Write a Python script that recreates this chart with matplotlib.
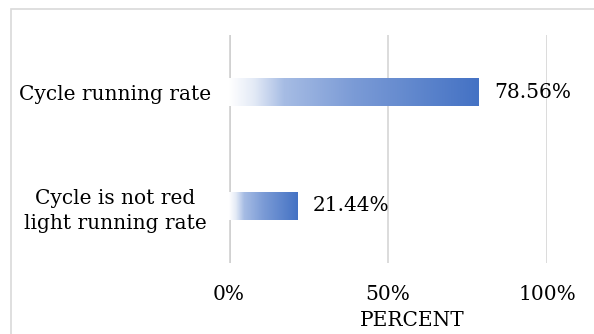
import numpy as np
import matplotlib.pyplot as plt
from matplotlib.colors import LinearSegmentedColormap
from matplotlib.patches import Rectangle

# data
categories = ['Cycle is not red\nlight running rate', 'Cycle running rate']
percent = [21.44, 78.56]
ticks = [0, 50, 100]
tick_labels = ['0%', '50%', '100%']

plt.rcParams['font.family'] = ['DejaVu Serif']
fs = 14.5

fig = plt.figure(figsize=(5.94, 3.34), dpi=100)
ax = fig.add_axes([0.3855, 0.2126, 0.5354, 0.6826])

# white -> blue gradient like the Excel fill
grad = LinearSegmentedColormap.from_list('grad', [
    (0.0, '#ffffff'), (0.1, '#e3eaf6'), (0.22, '#a6bce4'),
    (0.5, '#7b9bd6'), (1.0, '#4472c4')])

bars = ax.barh(range(len(categories)), percent, height=0.245,
               color='none', edgecolor='none', zorder=3)
g = np.linspace(0, 1, 256).reshape(1, -1)
for b in bars:
    x0, y0 = b.get_x(), b.get_y()
    im = ax.imshow(g, cmap=grad, aspect='auto', zorder=3,
                   extent=[x0, x0 + b.get_width(), y0, y0 + b.get_height()])
    im.set_clip_path(b)

for i, v in enumerate(percent):
    ax.text(v + 5, i, f'{v:.2f}%', va='center', ha='left', fontsize=fs)

ax.set_xlim(0, 100)
ax.set_ylim(-0.5, len(categories) - 0.5)
ax.set_xticks(ticks)
ax.set_xticklabels(tick_labels, fontsize=fs)
ax.set_yticks(range(len(categories)))
ax.set_yticklabels(categories, fontsize=fs, ha='center', linespacing=1.4)
ax.tick_params(axis='y', length=0, pad=82)
ax.tick_params(axis='x', length=0, pad=16)

ax.grid(axis='x', color='#d9d9d9', linewidth=1.3, zorder=0)
ax.axvline(0, color='#cfcfcf', linewidth=2.8, zorder=1)
for s in ax.spines.values():
    s.set_visible(False)

ax.set_xlabel('PERCENT', fontsize=fs)
ax.xaxis.set_label_coords(0.575, -0.21)
ax.xaxis.label.set_va('top')

# chart area border
fig.patches.append(Rectangle((11 / 594, -0.1), 1.0, 1 - 9 / 334 + 0.1,
                             transform=fig.transFigure, fill=False,
                             edgecolor='#d9d9d9', linewidth=1.2))

fig.savefig('out.png', dpi=100)
